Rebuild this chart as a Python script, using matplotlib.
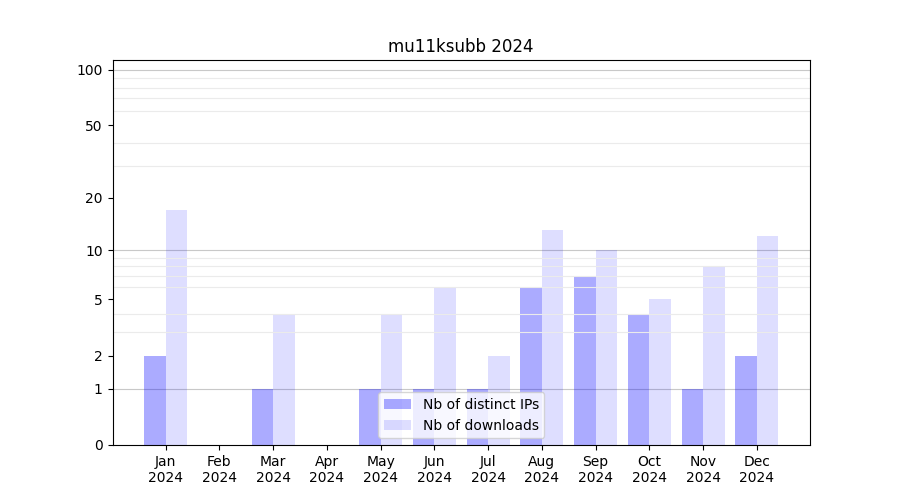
import numpy as np
import matplotlib.pyplot as plt

months = ['Jan', 'Feb', 'Mar', 'Apr', 'May', 'Jun',
          'Jul', 'Aug', 'Sep', 'Oct', 'Nov', 'Dec']
year = '2024'
distinct_ips = [2, 0, 1, 0, 1, 1, 1, 6, 7, 4, 1, 2]
downloads = [17, 0, 4, 0, 4, 6, 2, 13, 10, 5, 8, 12]
yticks = [0, 1, 2, 5, 10, 20, 50, 100]


def forward(v):
    return np.log10(1 + np.maximum(v, 0))


def inverse(v):
    return 10 ** v - 1


fig, ax = plt.subplots(figsize=(9, 5), dpi=100)
x = np.arange(len(months))
ax.bar(x - 0.2, distinct_ips, width=0.4, color='blue', alpha=0.33,
       label='Nb of distinct IPs')
ax.bar(x + 0.2, downloads, width=0.4, color='blue', alpha=0.13,
       label='Nb of downloads')

ax.set_yscale('function', functions=(forward, inverse))
ax.set_ylim(0, 113)
ax.set_yticks(yticks)
ax.set_yticklabels([str(t) for t in yticks])
minor = [m * d for d in (1, 10) for m in range(2, 10)]
ax.set_yticks(minor, minor=True)
ax.tick_params(axis='y', which='minor', length=0)
ax.grid(True, which='minor', axis='y', color='#ebebeb', linewidth=0.8)
for v in (1, 10, 100):
    ax.axhline(v, color='#c8c8c8', linewidth=0.8, zorder=0.5)

ax.set_xticks(x)
ax.set_xticklabels([m + '\n' + year for m in months])
ax.set_title('mu11ksubb 2024')
ax.legend(loc='lower center')

fig.savefig('out.png')
